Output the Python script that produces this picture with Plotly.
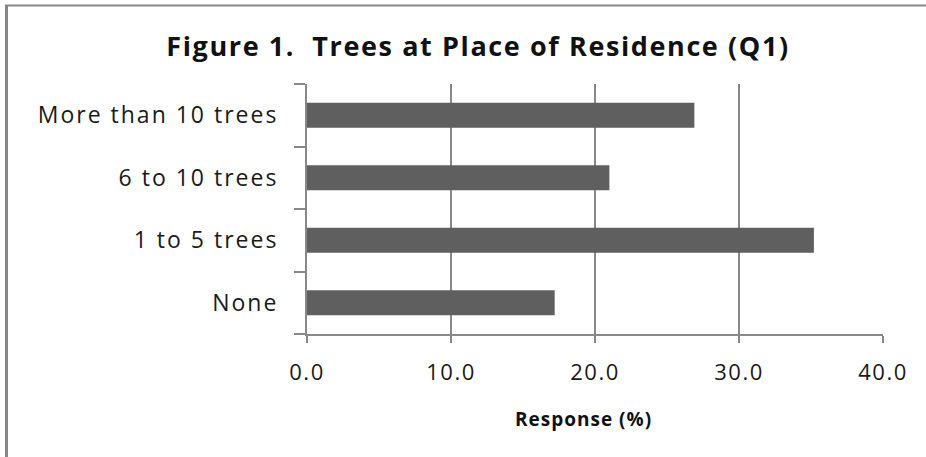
import plotly.graph_objects as go

# Survey responses (percent), listed bottom to top on the chart
categories = ["None", "1 to 5 trees", "6 to 10 trees", "More than 10 trees"]
responses = [17.2, 35.2, 21.0, 26.9]
x_ticks = [0, 10, 20, 30, 40]

W, H = 926, 457
L, R, T, B = 307, 43, 84, 123
pw, ph = W - L - R, H - T - B


def px_x(px):
    return (px - L) / pw


def px_y(py):
    return (H - B - py) / ph


def spaced(text, px):
    """Wrap text in a span with extra letter spacing."""
    return f'<span style="letter-spacing:{px}px">{text}</span>'


GRAY = "#888888"
TEXT = "#1a1a1a"
FONT = "Open Sans"

fig = go.Figure(
    go.Bar(
        x=responses,
        y=categories,
        orientation="h",
        width=0.4,
        marker=dict(color="#5f5f5f", line=dict(width=0)),
        hoverinfo="x+y",
    )
)

fig.update_layout(
    width=W,
    height=H,
    margin=dict(l=L, r=R, t=T, b=B, pad=0),
    paper_bgcolor="white",
    plot_bgcolor="white",
    showlegend=False,
    font=dict(family=FONT, color=TEXT),
    title=dict(
        text=spaced("<b>Figure 1.  Trees at Place of Residence (Q1)</b>", 1.6),
        x=478 / W,
        xref="container",
        xanchor="center",
        y=1 - 47 / H,
        yref="container",
        yanchor="middle",
        font=dict(family=FONT, size=27, color="#111111"),
    ),
    xaxis=dict(
        range=[0, 40],
        tickvals=x_ticks,
        ticktext=[spaced(f"{v:.1f}", 1.5) for v in x_ticks],
        showgrid=True,
        gridcolor=GRAY,
        gridwidth=1.5,
        zeroline=False,
        showline=True,
        linecolor=GRAY,
        linewidth=1.5,
        ticks="outside",
        ticklen=7,
        tickwidth=1.5,
        tickcolor=GRAY,
        ticklabelstandoff=11,
        tickfont=dict(family=FONT, size=22, color=TEXT),
        fixedrange=True,
    ),
    yaxis=dict(
        type="category",
        categoryorder="array",
        categoryarray=categories,
        tickvals=categories,
        ticktext=[spaced(c, 2) for c in categories],
        range=[-0.5, len(categories) - 0.5],
        showgrid=False,
        zeroline=False,
        showline=True,
        linecolor=GRAY,
        linewidth=2,
        ticks="outside",
        tickson="boundaries",
        ticklen=11,
        tickwidth=1.5,
        tickcolor=GRAY,
        ticklabelstandoff=22,
        tickfont=dict(family=FONT, size=23, color=TEXT),
        fixedrange=True,
    ),
    annotations=[
        dict(
            text=spaced("<b>Response (%)</b>", 1.0),
            xref="paper",
            yref="paper",
            x=px_x(583),
            y=px_y(419),
            xanchor="center",
            yanchor="middle",
            showarrow=False,
            font=dict(family=FONT, size=19, color="#111111"),
        )
    ],
    shapes=[
        # frame edges around the chart area
        dict(type="line", xref="paper", yref="paper",
             x0=px_x(6.5), x1=px_x(6.5), y0=px_y(5), y1=px_y(H + 2),
             line=dict(color=GRAY, width=3)),
        dict(type="line", xref="paper", yref="paper",
             x0=px_x(5), x1=px_x(W + 2), y0=px_y(5.5), y1=px_y(5.5),
             line=dict(color=GRAY, width=2)),
    ],
)

fig.write_html("out.html", config={"displayModeBar": False})
